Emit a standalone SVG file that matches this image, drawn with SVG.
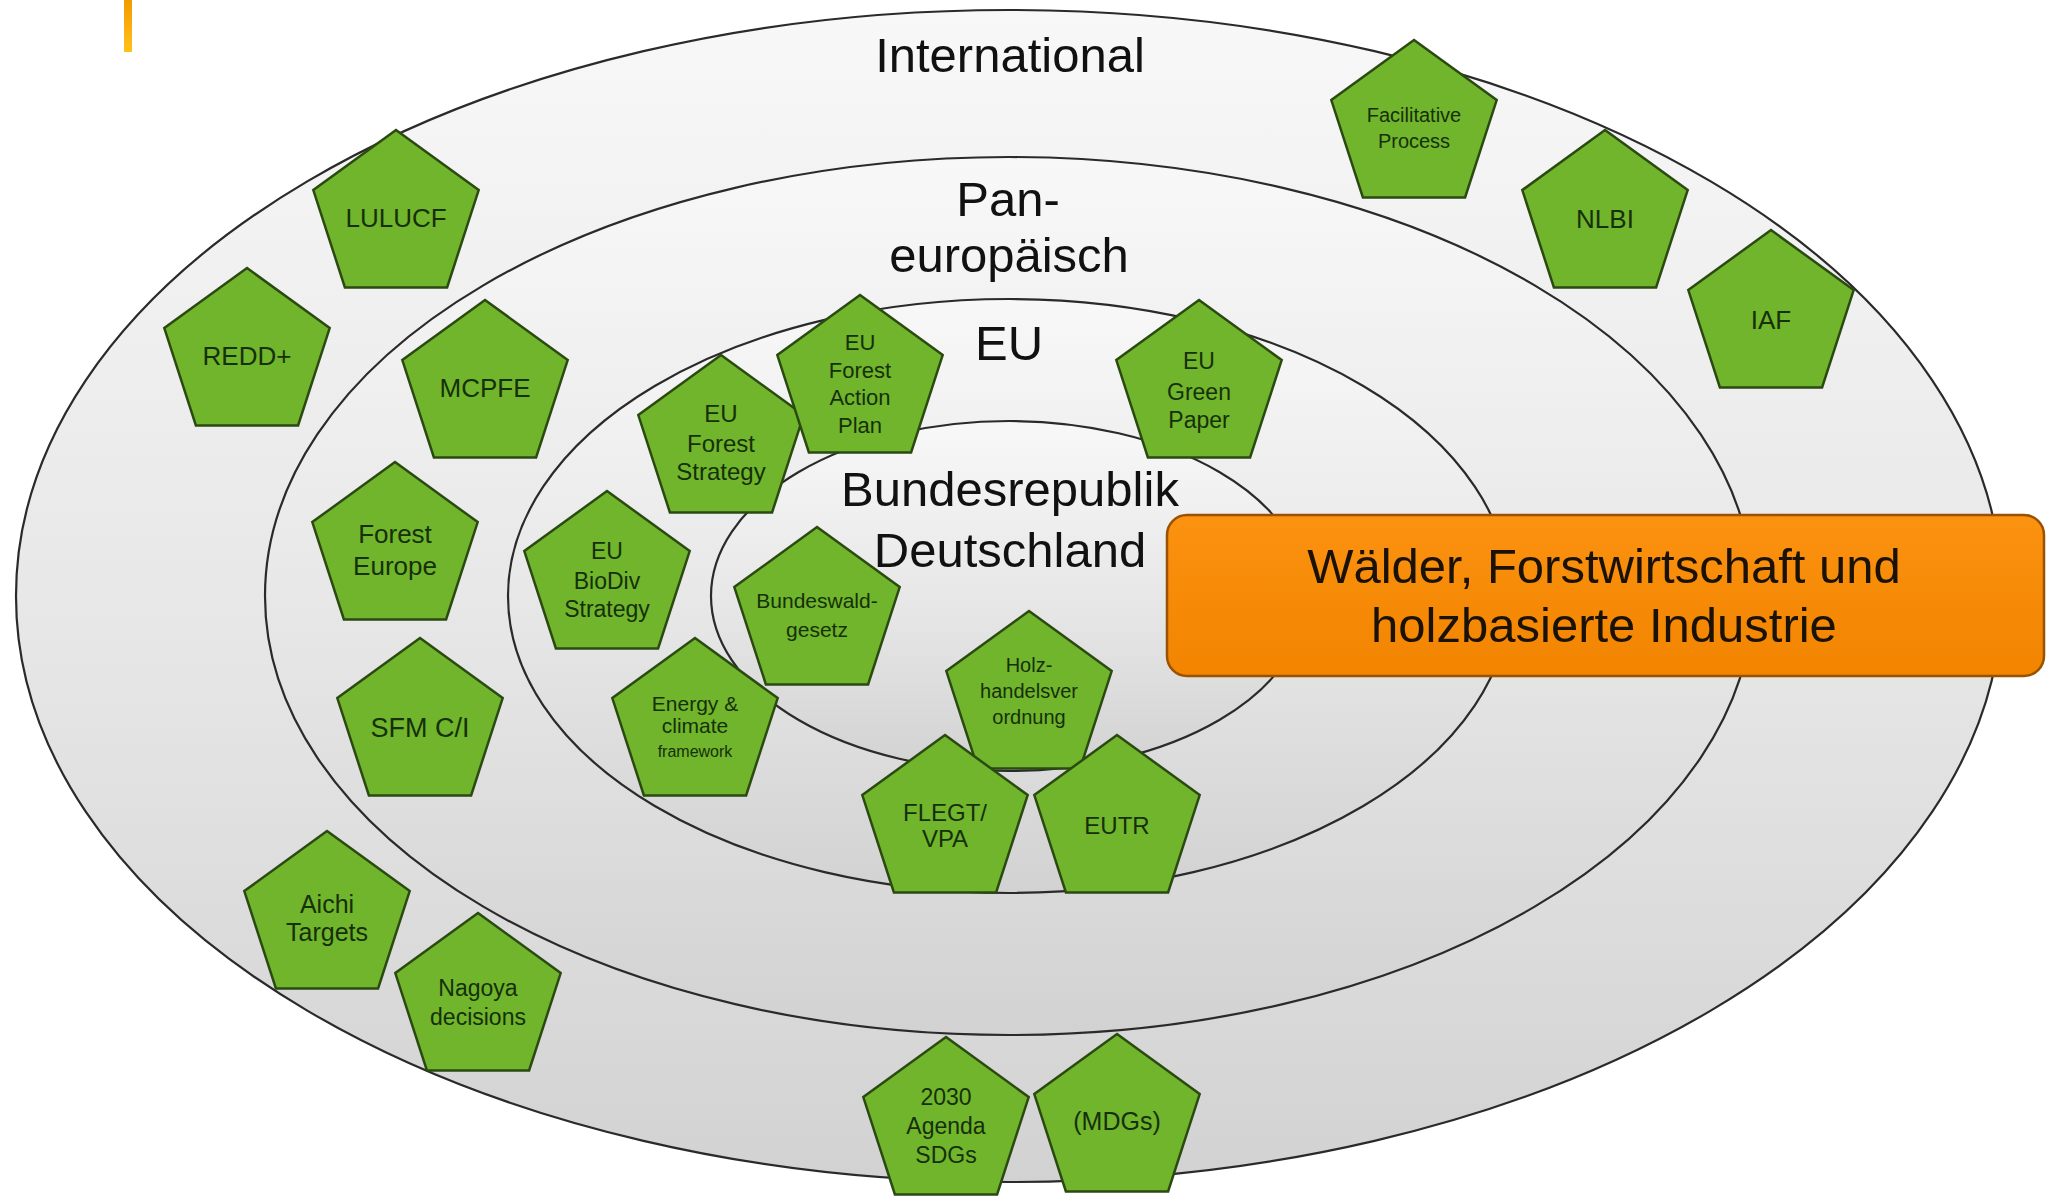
<svg xmlns="http://www.w3.org/2000/svg" width="2053" height="1197" viewBox="0 0 2053 1197">
<style>
.ring{stroke:#2a2a2a;stroke-width:2.2;fill:url(#gray)}
.lvl{font-family:"Liberation Sans",Arial,sans-serif;font-size:49px;fill:#111;text-anchor:middle}
.pent{fill:#70b52c;stroke:#2b4a12;stroke-width:2.5;stroke-linejoin:miter}
.nt{font-family:"Liberation Sans",Arial,sans-serif;fill:#16300a;text-anchor:middle}
.box{fill:url(#orange);stroke:#9a5200;stroke-width:2.5}
.bt{font-family:"Liberation Sans",Arial,sans-serif;font-size:49px;fill:#1a1206;text-anchor:middle}
</style>
<defs>
<linearGradient id="gray" x1="0" y1="0" x2="0" y2="1">
<stop offset="0" stop-color="#f8f8f8"/>
<stop offset="0.55" stop-color="#e6e6e6"/>
<stop offset="1" stop-color="#d2d2d2"/>
</linearGradient>
<linearGradient id="orange" x1="0" y1="0" x2="0" y2="1">
<stop offset="0" stop-color="#fb9210"/>
<stop offset="1" stop-color="#f28400"/>
</linearGradient>
<linearGradient id="bar" x1="0" y1="0" x2="0" y2="1">
<stop offset="0" stop-color="#f39a00"/>
<stop offset="1" stop-color="#ffc21a"/>
</linearGradient>
<path id="pent" d="M0,-87 L82.7,-26.9 L51.1,70.4 L-51.1,70.4 L-82.7,-26.9 Z"/>
</defs>
<rect width="2053" height="1197" fill="#ffffff"/>
<rect x="124" y="0" width="8" height="52" fill="url(#bar)"/>

<g id="rings">
<ellipse id="ring-international" class="ring" cx="1009" cy="596" rx="993" ry="586"/>
<ellipse id="ring-paneuropa" class="ring" cx="1009" cy="596" rx="744" ry="439"/>
<ellipse id="ring-eu" class="ring" cx="1009" cy="596" rx="501" ry="297"/>
<ellipse id="ring-brd" class="ring" cx="1009" cy="596" rx="298" ry="175"/>
</g>

<g id="connectors"></g>

<g id="n-lulucf" transform="translate(396,217)"><use href="#pent" class="pent"/><text class="nt" font-size="26" y="10">LULUCF</text></g>
<g id="n-redd" transform="translate(247,355)"><use href="#pent" class="pent"/><text class="nt" font-size="26" y="10">REDD+</text></g>
<g id="n-mcpfe" transform="translate(485,387)"><use href="#pent" class="pent"/><text class="nt" font-size="26" y="10">MCPFE</text></g>
<g id="n-foresteurope" transform="translate(395,549)"><use href="#pent" class="pent"/><text class="nt" font-size="26"><tspan x="0" y="-6">Forest</tspan><tspan x="0" y="26">Europe</tspan></text></g>
<g id="n-euforeststrategy" transform="translate(721,442)"><use href="#pent" class="pent"/><text class="nt" font-size="24"><tspan x="0" y="-20">EU</tspan><tspan x="0" y="10">Forest</tspan><tspan x="0" y="38">Strategy</tspan></text></g>
<g id="n-euforestactionplan" transform="translate(860,382)"><use href="#pent" class="pent"/><text class="nt" font-size="22"><tspan x="0" y="-32">EU</tspan><tspan x="0" y="-4">Forest</tspan><tspan x="0" y="23">Action</tspan><tspan x="0" y="51">Plan</tspan></text></g>
<g id="n-eubiodiv" transform="translate(607,578)"><use href="#pent" class="pent"/><text class="nt" font-size="23"><tspan x="0" y="-19">EU</tspan><tspan x="0" y="11">BioDiv</tspan><tspan x="0" y="39">Strategy</tspan></text></g>
<g id="n-bundeswaldgesetz" transform="translate(817,614)"><use href="#pent" class="pent"/><text class="nt" font-size="21"><tspan x="0" y="-6">Bundeswald-</tspan><tspan x="0" y="23">gesetz</tspan></text></g>
<g id="n-facilitative" transform="translate(1414,127)"><use href="#pent" class="pent"/><text class="nt" font-size="20"><tspan x="0" y="-5">Facilitative</tspan><tspan x="0" y="21">Process</tspan></text></g>
<g id="n-nlbi" transform="translate(1605,217)"><use href="#pent" class="pent"/><text class="nt" font-size="26" y="11">NLBI</text></g>
<g id="n-iaf" transform="translate(1771,317)"><use href="#pent" class="pent"/><text class="nt" font-size="26" y="12">IAF</text></g>
<g id="n-eugreenpaper" transform="translate(1199,387)"><use href="#pent" class="pent"/><text class="nt" font-size="23"><tspan x="0" y="-18">EU</tspan><tspan x="0" y="13">Green</tspan><tspan x="0" y="41">Paper</tspan></text></g>
<g id="n-sfmci" transform="translate(420,725)"><use href="#pent" class="pent"/><text class="nt" font-size="27" y="12">SFM C/I</text></g>
<g id="n-energyclimate" transform="translate(695,725)"><use href="#pent" class="pent"/><text class="nt" font-size="21"><tspan x="0" y="-14">Energy &amp;</tspan><tspan x="0" y="8">climate</tspan><tspan x="0" y="32" font-size="16">framework</tspan></text></g>
<g id="n-holzhandel" transform="translate(1029,698)"><use href="#pent" class="pent"/><text class="nt" font-size="20"><tspan x="0" y="-26">Holz-</tspan><tspan x="0" y="0">handelsver</tspan><tspan x="0" y="26">ordnung</tspan></text></g>
<g id="n-flegt" transform="translate(945,822)"><use href="#pent" class="pent"/><text class="nt" font-size="24"><tspan x="0" y="-1">FLEGT/</tspan><tspan x="0" y="25">VPA</tspan></text></g>
<g id="n-eutr" transform="translate(1117,822)"><use href="#pent" class="pent"/><text class="nt" font-size="24" y="12">EUTR</text></g>
<g id="n-aichi" transform="translate(327,918)"><use href="#pent" class="pent"/><text class="nt" font-size="25"><tspan x="0" y="-5">Aichi</tspan><tspan x="0" y="23">Targets</tspan></text></g>
<g id="n-nagoya" transform="translate(478,1000)"><use href="#pent" class="pent"/><text class="nt" font-size="23"><tspan x="0" y="-4">Nagoya</tspan><tspan x="0" y="25">decisions</tspan></text></g>
<g id="n-agenda2030" transform="translate(946,1124)"><use href="#pent" class="pent"/><text class="nt" font-size="23"><tspan x="0" y="-19">2030</tspan><tspan x="0" y="10">Agenda</tspan><tspan x="0" y="39">SDGs</tspan></text></g>
<g id="n-mdgs" transform="translate(1117,1121)"><use href="#pent" class="pent"/><text class="nt" font-size="25" y="9">(MDGs)</text></g>

<g id="level-labels">
<text class="lvl" x="1010" y="72" font-size="50">International</text>
<text class="lvl" x="1008" y="216">Pan-</text>
<text class="lvl" x="1009" y="272">europäisch</text>
<text class="lvl" x="1009" y="360">EU</text>
<text class="lvl" x="1010" y="506">Bundesrepublik</text>
<text class="lvl" x="1010" y="567">Deutschland</text>
</g>

<g id="n-sector">
<rect class="box" x="1167" y="515" width="877" height="161" rx="20" ry="20"/>
<text class="bt" x="1604" y="583">Wälder, Forstwirtschaft und</text>
<text class="bt" x="1604" y="642">holzbasierte Industrie</text>
</g>
</svg>
